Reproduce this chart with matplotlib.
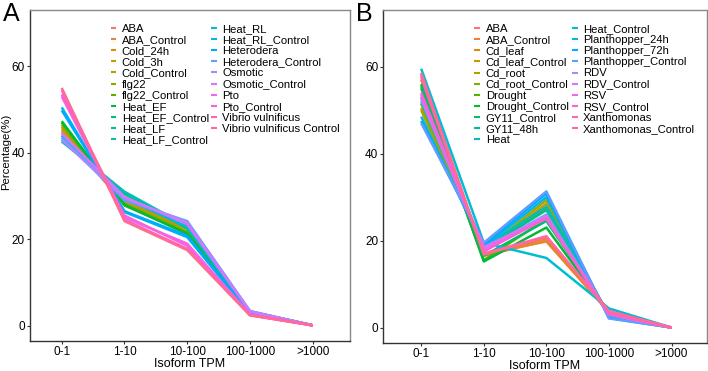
import numpy as np
import matplotlib
matplotlib.use("Agg")
import matplotlib.pyplot as plt

plt.rcParams['font.family'] = ['Liberation Sans', 'DejaVu Sans']

bins = ["0-1", "1-10", "10-100", "100-1000", ">1000"]

names_a = ["ABA", "ABA_Control", "Cold_24h", "Cold_3h", "Cold_Control", "flg22",
           "flg22_Control", "Heat_EF", "Heat_EF_Control", "Heat_LF", "Heat_LF_Control",
           "Heat_RL", "Heat_RL_Control", "Heterodera", "Heterodera_Control", "Osmotic",
           "Osmotic_Control", "Pto", "Pto_Control", "Vibrio vulnificus",
           "Vibrio vulnificus Control"]
vals_a = [
    [45.0, 28.0, 23.5, 3.3, 0.1],
    [44.5, 28.5, 23.0, 3.2, 0.1],
    [46.0, 28.0, 22.5, 3.2, 0.1],
    [45.5, 28.5, 22.8, 3.1, 0.1],
    [44.0, 29.0, 23.5, 3.3, 0.1],
    [46.5, 28.2, 21.8, 3.2, 0.1],
    [47.0, 27.8, 21.5, 3.0, 0.1],
    [47.3, 28.0, 21.2, 3.0, 0.1],
    [43.5, 30.5, 22.5, 3.2, 0.1],
    [43.0, 30.8, 22.8, 3.3, 0.1],
    [42.6, 31.0, 23.0, 3.3, 0.1],
    [44.0, 29.5, 22.8, 3.2, 0.1],
    [50.5, 26.3, 20.5, 2.8, 0.1],
    [49.8, 26.5, 20.8, 2.8, 0.1],
    [43.5, 29.0, 24.2, 3.4, 0.1],
    [43.0, 29.5, 24.0, 3.4, 0.1],
    [44.5, 29.8, 23.5, 3.3, 0.1],
    [53.0, 25.0, 19.0, 2.6, 0.1],
    [53.5, 25.5, 18.5, 2.5, 0.1],
    [54.5, 24.5, 17.8, 2.5, 0.1],
    [55.0, 24.2, 17.5, 2.4, 0.1],
]

names_b = ["ABA", "ABA_Control", "Cd_leaf", "Cd_leaf_Control", "Cd_root",
           "Cd_root_Control", "Drought", "Drought_Control", "GY11_Control", "GY11_48h",
           "Heat", "Heat_Control", "Planthopper_24h", "Planthopper_72h",
           "Planthopper_Control", "RDV", "RDV_Control", "RSV", "RSV_Control",
           "Xanthomonas", "Xanthomonas_Control"]
vals_b = [
    [58.0, 16.5, 20.0, 3.5, 0.0],
    [58.5, 16.8, 19.8, 3.6, 0.0],
    [57.0, 17.0, 20.5, 3.5, 0.0],
    [50.5, 17.5, 28.5, 2.8, 0.0],
    [50.0, 17.8, 29.3, 2.6, 0.0],
    [51.5, 17.5, 27.5, 2.8, 0.0],
    [55.0, 15.5, 25.0, 3.2, 0.0],
    [56.0, 15.2, 23.0, 3.4, 0.0],
    [55.5, 16.5, 24.5, 3.4, 0.0],
    [53.0, 18.0, 27.0, 3.0, 0.0],
    [52.0, 18.5, 27.8, 3.0, 0.0],
    [59.5, 19.5, 16.0, 4.4, 0.0],
    [48.5, 18.5, 30.0, 2.4, 0.0],
    [47.5, 19.0, 30.8, 2.2, 0.0],
    [47.0, 19.5, 31.3, 2.1, 0.0],
    [52.5, 18.0, 26.0, 3.0, 0.0],
    [53.0, 18.5, 25.4, 3.0, 0.0],
    [53.5, 18.2, 25.0, 3.1, 0.0],
    [54.0, 17.5, 25.2, 3.1, 0.0],
    [57.5, 17.0, 21.0, 3.8, 0.0],
    [58.5, 16.8, 20.8, 3.7, 0.0],
]


def hue_pal(n, l=65, c=100):
    # ggplot2 default discrete palette (polar LUV -> sRGB)
    hues = np.linspace(15, 375, n + 1)[:n]
    xn, yn, zn = 95.047, 100.0, 108.883
    un = 4 * xn / (xn + 15 * yn + 3 * zn)
    vn = 9 * yn / (xn + 15 * yn + 3 * zn)
    m = np.array([[3.240479, -1.537150, -0.498535],
                  [-0.969256, 1.875992, 0.041556],
                  [0.055648, -0.204043, 1.057311]])
    out = []
    for h in hues:
        u = c * np.cos(np.radians(h))
        v = c * np.sin(np.radians(h))
        y = yn * ((l + 16) / 116) ** 3
        up = u / (13 * l) + un
        vp = v / (13 * l) + vn
        x = 9 * y * up / (4 * vp)
        z = -x / 3 - 5 * y + 3 * y / vp
        rgb = m @ (np.array([x, y, z]) / 100)
        rgb = np.where(rgb > 0.0031308, 1.055 * np.clip(rgb, 0, None) ** (1 / 2.4) - 0.055, 12.92 * rgb)
        out.append(np.clip(rgb, 0, 1))
    return out


fig = plt.figure(figsize=(7.08, 3.71), dpi=100)
ax_a = fig.add_axes([0.042, 0.081, 0.452, 0.892])
ax_b = fig.add_axes([0.541, 0.076, 0.457, 0.897])

x = np.arange(1, len(bins) + 1)

panels = [(ax_a, names_a, vals_a, (0.49, 5.59), 0.235, 0.2),
          (ax_b, names_b, vals_b, (0.39, 5.56), 0.265, 0.3)]
for ax, names, vals, xl, lx, colsp in panels:
    cols = hue_pal(len(names))
    for name, v, col in zip(names, vals, cols):
        ax.plot(x, v, color=col, lw=1.8, label=name, solid_capstyle='butt')
    ax.set_xlim(*xl)
    ax.set_ylim(-3.5, 73)
    ax.set_xticks(x)
    ax.set_xticklabels(bins)
    ax.set_yticks([0, 20, 40, 60])
    ax.tick_params(labelsize=8.5, length=2, width=0.8, color='#333333', pad=1.5)
    ax.set_xlabel("Isoform TPM", fontsize=9, labelpad=0)
    for s in ['left', 'bottom']:
        ax.spines[s].set_color('#333333')
    for s in ['top', 'right']:
        ax.spines[s].set_color('#888888')
    for s in ax.spines.values():
        s.set_linewidth(1.0)
    leg = ax.legend(ncol=2, frameon=False, loc='upper left', bbox_to_anchor=(lx, 0.975),
                    fontsize=8.1, handlelength=0.5, handletextpad=0.5,
                    columnspacing=colsp, labelspacing=0.1, borderpad=0)
    for h in leg.get_lines():
        h.set_linewidth(1.5)

ax_a.set_ylabel("Percentage(%)", fontsize=8.2)
ax_a.yaxis.set_label_coords(-0.058, 0.57)
fig.text(0.004, 0.995, "A", fontsize=18, va='top', ha='left')
fig.text(0.503, 0.995, "B", fontsize=18, va='top', ha='left')

fig.savefig("out.png", dpi=100)
